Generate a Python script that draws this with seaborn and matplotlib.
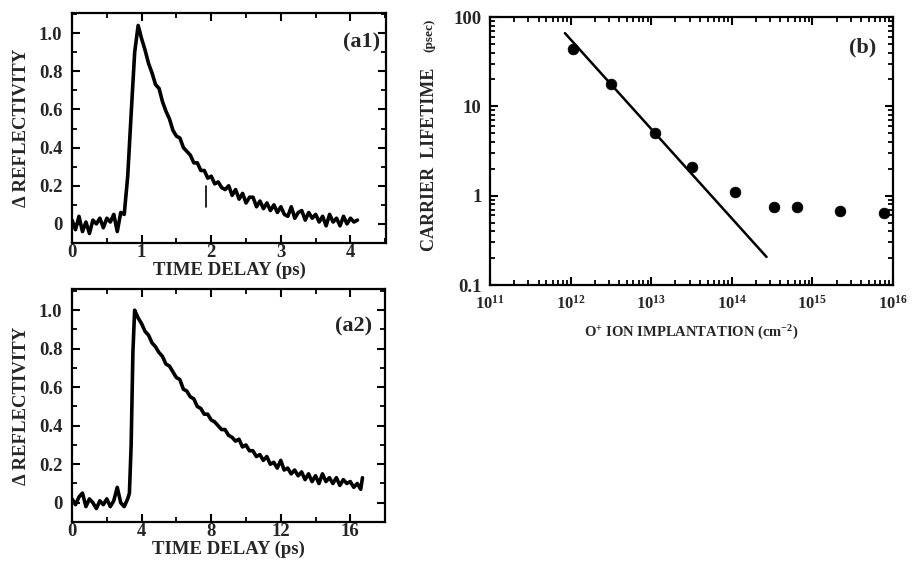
import numpy as np
import pandas as pd
import matplotlib
matplotlib.use("Agg")
import matplotlib.pyplot as plt
from matplotlib.ticker import FixedLocator, MultipleLocator, LogLocator, NullFormatter
import seaborn as sns

# panel (a1): reflectivity trace, short delay
a1_time = [0.00, 0.05, 0.10, 0.15, 0.20, 0.25, 0.30, 0.35, 0.40, 0.45, 0.50, 0.55, 0.60, 0.65,
           0.70, 0.75, 0.80, 0.85, 0.90, 0.95, 1.00, 1.05, 1.10, 1.15, 1.20, 1.25, 1.30, 1.35,
           1.40, 1.45, 1.50, 1.55, 1.60, 1.65, 1.70, 1.75, 1.80, 1.85, 1.90, 1.95, 2.00, 2.05,
           2.10, 2.15, 2.20, 2.25, 2.30, 2.35, 2.40, 2.45, 2.50, 2.55, 2.60, 2.65, 2.70, 2.75,
           2.80, 2.85, 2.90, 2.95, 3.00, 3.05, 3.10, 3.15, 3.20, 3.25, 3.30, 3.35, 3.40, 3.45,
           3.50, 3.55, 3.60, 3.65, 3.70, 3.75, 3.80, 3.85, 3.90, 3.95, 4.00, 4.05, 4.10]
a1_refl = [0.02, -0.03, 0.04, -0.04, 0.01, -0.05, 0.02, 0.00, 0.03, -0.02, 0.03, 0.01, 0.05, -0.04,
           0.06, 0.05, 0.25, 0.58, 0.90, 1.04, 0.97, 0.91, 0.84, 0.79, 0.73, 0.71, 0.64, 0.59,
           0.55, 0.49, 0.46, 0.45, 0.40, 0.38, 0.36, 0.32, 0.32, 0.28, 0.28, 0.24, 0.25, 0.21,
           0.22, 0.19, 0.18, 0.20, 0.15, 0.18, 0.13, 0.16, 0.11, 0.14, 0.14, 0.09, 0.12, 0.08,
           0.11, 0.07, 0.10, 0.06, 0.09, 0.05, 0.04, 0.09, 0.03, 0.06, 0.07, 0.02, 0.06, 0.03,
           0.05, 0.01, 0.04, -0.01, 0.05, 0.01, 0.03, -0.01, 0.04, 0.00, 0.03, 0.01, 0.02]
glitch_time = [1.93, 1.93]
glitch_refl = [0.20, 0.09]

# panel (a2): reflectivity trace, long delay
a2_time = [0.0, 0.2, 0.4, 0.6, 0.8, 1.0, 1.2, 1.4, 1.6, 1.8, 2.0, 2.2, 2.4, 2.6, 2.8, 3.0, 3.2,
           3.3, 3.4, 3.5, 3.6, 3.7, 3.8, 4.0, 4.2, 4.4, 4.6, 4.8, 5.0, 5.2, 5.4, 5.6, 5.8, 6.0,
           6.2, 6.4, 6.6, 6.8, 7.0, 7.2, 7.4, 7.6, 7.8, 8.0, 8.2, 8.4, 8.6, 8.8, 9.0, 9.2, 9.4,
           9.6, 9.8, 10.0, 10.2, 10.4, 10.6, 10.8, 11.0, 11.2, 11.4, 11.6, 11.8, 12.0, 12.2,
           12.4, 12.6, 12.8, 13.0, 13.2, 13.4, 13.6, 13.8, 14.0, 14.2, 14.4, 14.6, 14.8, 15.0,
           15.2, 15.4, 15.6, 15.8, 16.0, 16.2, 16.4, 16.6, 16.7]
a2_refl = [0.02, -0.01, 0.03, 0.05, -0.02, 0.02, 0.00, -0.03, 0.01, -0.01, 0.02, -0.02, 0.01,
           0.08, 0.00, -0.02, 0.02, 0.05, 0.30, 0.78, 1.00, 0.98, 0.96, 0.93, 0.89, 0.87, 0.83,
           0.81, 0.78, 0.76, 0.72, 0.71, 0.68, 0.65, 0.64, 0.59, 0.58, 0.55, 0.54, 0.50, 0.49,
           0.46, 0.46, 0.43, 0.42, 0.40, 0.38, 0.38, 0.35, 0.34, 0.32, 0.33, 0.29, 0.30, 0.27,
           0.27, 0.24, 0.25, 0.22, 0.24, 0.20, 0.21, 0.18, 0.22, 0.17, 0.18, 0.15, 0.17, 0.14,
           0.16, 0.12, 0.15, 0.11, 0.14, 0.10, 0.15, 0.11, 0.13, 0.10, 0.13, 0.09, 0.12, 0.10,
           0.11, 0.08, 0.10, 0.07, 0.13]

# panel (b): carrier lifetime vs implantation dose
dose = [1.07e12, 3.2e12, 1.1e13, 3.2e13, 1.1e14, 3.3e14, 6.5e14, 2.2e15, 7.7e15]
lifetime = [44, 17.9, 5.0, 2.07, 1.09, 0.74, 0.74, 0.67, 0.64]
fit_dose = [8.5e11, 2.7e14]
fit_lifetime = [66, 0.206]

a1_xticks = [0, 1, 2, 3, 4]
a2_xticks = [0, 4, 8, 12, 16]
refl_ticks = [0, 0.2, 0.4, 0.6, 0.8, 1.0]
refl_labels = ["0", "0.2", "0.4", "0.6", "0.8", "1.0"]
life_ticks = [0.1, 1, 10, 100]
life_labels = ["0.1", "1", "10", "100"]

sns.set_style("ticks")
plt.rcParams["font.family"] = ["Liberation Serif", "DejaVu Serif"]
plt.rcParams["font.weight"] = "bold"
plt.rcParams["mathtext.fontset"] = "custom"
plt.rcParams["mathtext.rm"] = "Liberation Serif:bold"
plt.rcParams["mathtext.it"] = "Liberation Serif:bold"
plt.rcParams["mathtext.bf"] = "Liberation Serif:bold"
plt.rcParams["mathtext.default"] = "rm"
plt.rcParams["axes.linewidth"] = 1.6
plt.rcParams["axes.edgecolor"] = "black"

fig = plt.figure(figsize=(9.14, 5.69), dpi=100)
ax1 = fig.add_axes([0.0788, 0.5729, 0.3435, 0.4042])
ax2 = fig.add_axes([0.0788, 0.0826, 0.3425, 0.4095])
axb = fig.add_axes([0.5361, 0.4991, 0.4409, 0.4710])


def style_ticks(ax, xpad=1, ypad=7):
    ax.tick_params(which="both", direction="in", top=True, right=True,
                   color="black", labelsize=13.5)
    ax.tick_params(axis="x", pad=xpad)
    ax.tick_params(axis="y", pad=ypad)
    ax.tick_params(which="major", length=6, width=1.5)
    ax.tick_params(which="minor", length=3.5, width=1.3)
    for lab in ax.get_xticklabels() + ax.get_yticklabels():
        lab.set_fontweight("bold")


df1 = pd.DataFrame({"t": a1_time, "r": a1_refl})
sns.lineplot(data=df1, x="t", y="r", ax=ax1, color="black", lw=2.6,
             estimator=None, sort=False)
ax1.plot(glitch_time, glitch_refl, color="black", lw=1.2)
ax1.set_xlim(0, 4.51)
ax1.set_ylim(-0.1, 1.105)
ax1.xaxis.set_major_locator(FixedLocator(a1_xticks))
ax1.xaxis.set_minor_locator(MultipleLocator(0.5))
ax1.set_xticklabels([str(v) for v in a1_xticks])
ax1.yaxis.set_major_locator(FixedLocator(refl_ticks))
ax1.yaxis.set_minor_locator(MultipleLocator(0.1))
ax1.set_yticklabels(refl_labels)
ax1.set_xlabel("TIME DELAY (ps)", fontsize=13.5, fontweight="bold", labelpad=0)
ax1.set_ylabel("\u0394 REFLECTIVITY", fontsize=13.5, fontweight="bold", labelpad=6)
ax1.text(0.98, 0.87, "(a1)", transform=ax1.transAxes, ha="right", va="center",
         fontsize=16, fontweight="bold")
style_ticks(ax1)

df2 = pd.DataFrame({"t": a2_time, "r": a2_refl})
sns.lineplot(data=df2, x="t", y="r", ax=ax2, color="black", lw=2.6,
             estimator=None, sort=False)
ax2.set_xlim(0, 18.0)
ax2.set_ylim(-0.1, 1.11)
ax2.xaxis.set_major_locator(FixedLocator(a2_xticks))
ax2.xaxis.set_minor_locator(MultipleLocator(2))
ax2.set_xticklabels([str(v) for v in a2_xticks])
ax2.yaxis.set_major_locator(FixedLocator(refl_ticks))
ax2.yaxis.set_minor_locator(MultipleLocator(0.1))
ax2.set_yticklabels(refl_labels)
ax2.set_xlabel("TIME DELAY (ps)", fontsize=13.5, fontweight="bold", labelpad=0)
ax2.set_ylabel("\u0394 REFLECTIVITY", fontsize=13.5, fontweight="bold", labelpad=6)
ax2.text(0.96, 0.84, "(a2)", transform=ax2.transAxes, ha="right", va="center",
         fontsize=16, fontweight="bold")
style_ticks(ax2)

dfb = pd.DataFrame({"dose": dose, "lifetime": lifetime})
sns.scatterplot(data=dfb, x="dose", y="lifetime", ax=axb, color="black",
                s=60, edgecolor="black", linewidth=0.5, zorder=3)
sns.lineplot(x=fit_dose, y=fit_lifetime, ax=axb, color="black", lw=1.8)
axb.set_xscale("log")
axb.set_yscale("log")
axb.set_xlim(1e11, 1e16)
axb.set_ylim(0.1, 100)
axb.xaxis.set_major_locator(LogLocator(base=10, numticks=10))
axb.xaxis.set_minor_locator(LogLocator(base=10, subs=np.arange(2, 10), numticks=20))
axb.xaxis.set_minor_formatter(NullFormatter())
axb.yaxis.set_major_locator(FixedLocator(life_ticks))
axb.yaxis.set_minor_locator(LogLocator(base=10, subs=np.arange(2, 10), numticks=20))
axb.yaxis.set_minor_formatter(NullFormatter())
axb.set_yticklabels(life_labels)
axb.set_xlabel(r"O$^{+}$ ION IMPLANTATION (cm$^{-2}$)", fontsize=10.5,
               fontweight="bold", labelpad=8)
axb.set_ylabel("")
axb.text(-0.15, 0.47, "CARRIER  LIFETIME", transform=axb.transAxes, rotation=90,
         ha="center", va="center", fontsize=13, fontweight="bold")
axb.text(-0.15, 0.93, "(psec)", transform=axb.transAxes, rotation=90,
         ha="center", va="center", fontsize=9.5, fontweight="bold")
axb.text(0.958, 0.885, "(b)", transform=axb.transAxes, ha="right", va="center",
         fontsize=16, fontweight="bold")
style_ticks(axb, xpad=7, ypad=6)
for lab in axb.get_xticklabels():
    lab.set_fontsize(12)

fig.savefig("out.png", dpi=100)
